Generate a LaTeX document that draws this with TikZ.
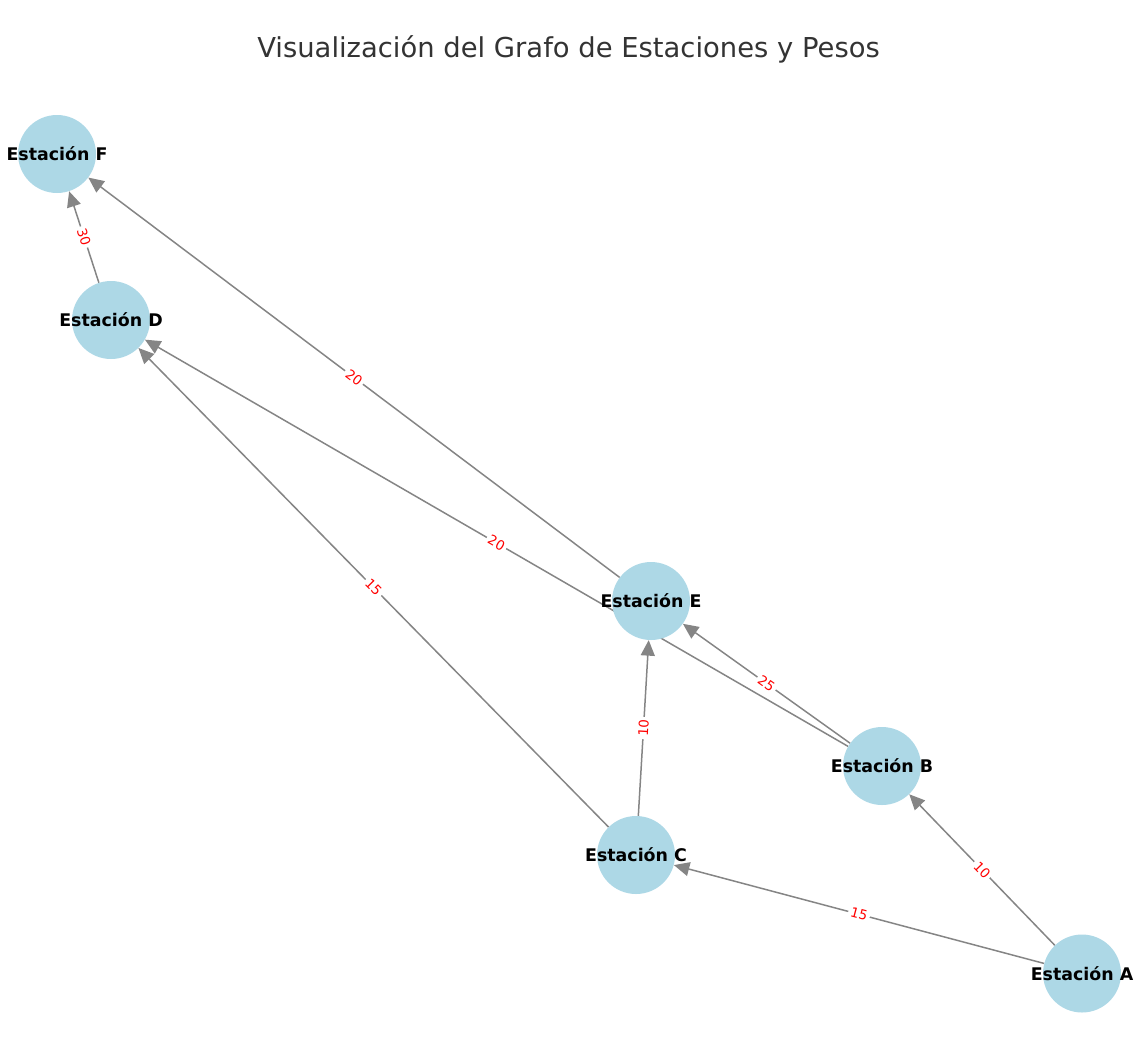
\documentclass[tikz,border=0pt]{standalone}
\usepackage{fontspec}
\setmainfont{DejaVu Sans}
\usetikzlibrary{arrows.meta,backgrounds}
\definecolor{nodeblue}{HTML}{ADD8E6}
\definecolor{edgegray}{HTML}{858585}
\definecolor{titlegray}{HTML}{333333}
\begin{document}
\begin{tikzpicture}[x=1pt,y=-1pt,
 station/.style={circle, fill=nodeblue, minimum size=78pt, inner sep=0pt,
   label={[font=\fontsize{17.4}{20}\selectfont\bfseries, text=black]center:#1}},
 link/.style={draw=edgegray, line width=1.5pt, -{Triangle[length=15.5pt,width=14pt]}},
 weight/.style={midway, sloped, fill=white, text=red, inner sep=2.5pt, font=\fontsize{13.4}{15}\selectfont}]
\useasboundingbox (0,0) rectangle (1147,1037);
\node[text=titlegray, font=\fontsize{27.4}{32}\selectfont] (title) at (568.5,49) {Visualización del Grafo de Estaciones y Pesos};
\node[station={Estación F}] (F) at (57,154) {};
\node[station={Estación D}] (D) at (111,320) {};
\node[station={Estación E}] (E) at (651,601) {};
\node[station={Estación B}] (B) at (882,766) {};
\node[station={Estación C}] (C) at (636,855) {};
\node[station={Estación A}] (A) at (1082,973.5) {};
\begin{pgfonlayer}{background}
\draw[link] (A) -- node[weight] {15} (C);
\draw[link] (A) -- node[weight] {10} (B);
\draw[link] (C) -- node[weight] {10} (E);
\draw[link] (C) -- node[weight] {15} (D);
\draw[link] (B) -- node[weight] {25} (E);
\draw[link] (B) -- node[weight] {20} (D);
\draw[link] (E) -- node[weight] {20} (F);
\draw[link] (D) -- node[weight] {30} (F);
\end{pgfonlayer}
\end{tikzpicture}
\end{document}
